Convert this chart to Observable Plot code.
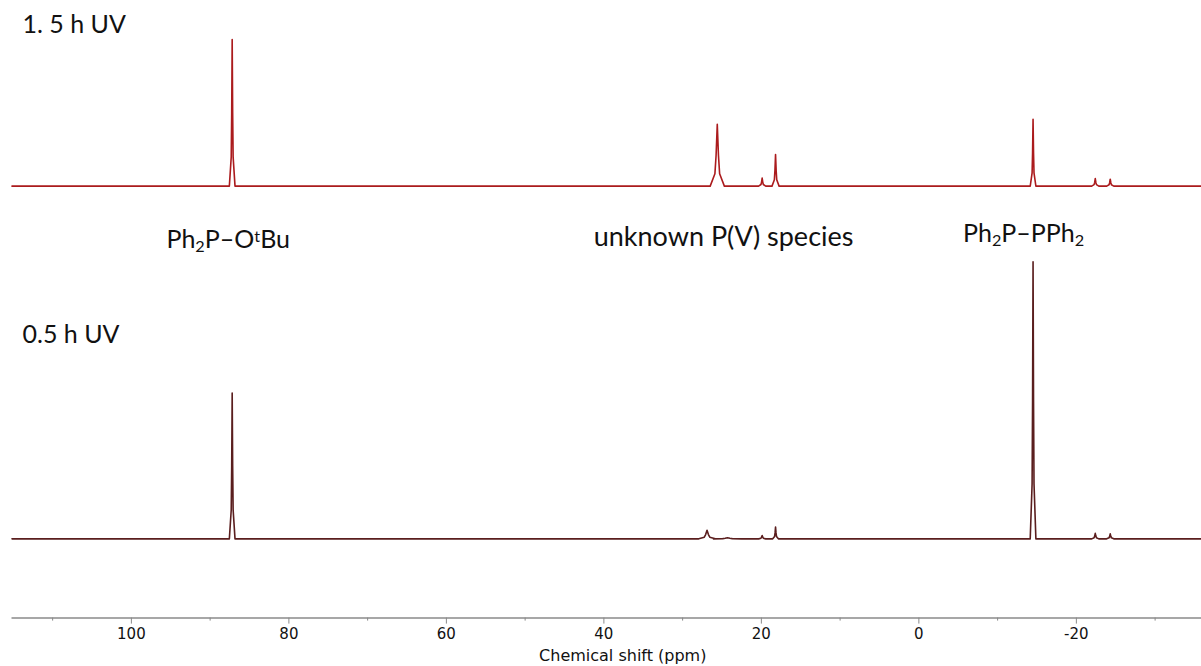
<!DOCTYPE html>
<html>
<head>
<meta charset="utf-8">
<script src="https://cdn.jsdelivr.net/npm/d3@7"></script>
<script src="https://cdn.jsdelivr.net/npm/@observablehq/plot@0.6"></script>
<style>
  html, body { margin: 0; padding: 0; background: #fff; }
  #chart svg { display: block; }
</style>
</head>
<body>
<div id="chart"></div>
<script>
// 31P NMR spectra after 1.5 h and 0.5 h of UV irradiation (stacked).
const sampleNames = ["1. 5 h UV", "0.5 h UV"];

// 1.5 h UV: peak list (ppm, relative intensity, line width in ppm)
const shifts15 = [87.2, 25.6, 19.9, 18.2, -14.5, -22.4, -24.3];
const heights15 = [52.9, 22.3, 2.9, 11.4, 24.1, 2.7, 2.5];
const widths15 = [0.12, 0.3, 0.15, 0.15, 0.12, 0.15, 0.15];

// 0.5 h UV: peak list
const shifts05 = [87.2, 26.9, 24.3, 19.9, 18.2, -14.5, -22.4, -24.3];
const heights05 = [52.6, 3.1, 0.4, 1.2, 4.3, 100, 2.0, 1.8];
const widths05 = [0.12, 0.35, 0.6, 0.15, 0.12, 0.12, 0.15, 0.15];

// Assignments (text, chemical shift the label sits over)
const assignTexts = ["Ph_2P–O^tBu", "unknown P(V) species", "Ph_2P–PPh_2"];
const assignShifts = [87.7, 24.8, -13.3];

// Axis ticks
const majorTicks = [100, 80, 60, 40, 20, 0, -20];
const minorTicks = [110, 90, 70, 50, 30, 10, -10, -30];
const axisTitle = "Chemical shift (ppm)";

// ---- layout ----
const W = 1201, H = 666;
const ppmDomain = [115.16, -35.89];
const yDomain = [-28.6, 194.3];
const stackOffset = [127.3, 0];      // vertical offset of each trace
const labelLevel = [58.0, 73.4];     // sample label height above its baseline
const assignLevel = [107.7, 108.8, 110.2];
const assignSize = [25, 27, 25];
const colors = ["#ab1b1d", "#5a1e1e"];

function trace(name, offset, shifts, heights, widths) {
  const pts = [{sample: name, ppm: ppmDomain[0], y: offset}];
  const order = d3.range(shifts.length).sort((a, b) => shifts[b] - shifts[a]);
  for (const i of order) {
    const p = shifts[i], h = heights[i], w = widths[i];
    pts.push(
      {sample: name, ppm: p + 3 * w, y: offset},
      {sample: name, ppm: p + w, y: offset + 0.2 * h},
      {sample: name, ppm: p + w / 2, y: offset + 0.5 * h},
      {sample: name, ppm: p, y: offset + h},
      {sample: name, ppm: p - w / 2, y: offset + 0.5 * h},
      {sample: name, ppm: p - w, y: offset + 0.2 * h},
      {sample: name, ppm: p - 3 * w, y: offset}
    );
  }
  pts.push({sample: name, ppm: ppmDomain[1], y: offset});
  return pts;
}

const points = [
  ...trace(sampleNames[0], stackOffset[0], shifts15, heights15, widths15),
  ...trace(sampleNames[1], stackOffset[1], shifts05, heights05, widths05)
];

const sampleLabels = sampleNames.map((s, i) => ({text: s, y: stackOffset[i] + labelLevel[i]}));
const assignLabels = assignTexts.map((t, i) => ({text: t, ppm: assignShifts[i], y: assignLevel[i], size: assignSize[i]}));

const chart = Plot.plot({
  width: W,
  height: H,
  marginLeft: 11.5,
  marginRight: 0,
  marginTop: 0,
  marginBottom: 48.4,
  style: {fontFamily: "DejaVu Sans", fontSize: "15px", color: "#111", background: "#fff"},
  x: {domain: ppmDomain},
  y: {domain: yDomain, axis: null},
  color: {domain: sampleNames, range: colors},
  marks: [
    Plot.ruleY([yDomain[0]], {stroke: "#8a8a8a", strokeWidth: 1.5}),
    Plot.axisX({ticks: minorTicks, tickSize: 3, tickFormat: () => "", stroke: "#8a8a8a", label: null}),
    Plot.axisX({ticks: majorTicks, tickSize: 6, tickPadding: 4, tickFormat: d => `${d}`,
      stroke: "#8a8a8a", fill: "#111", fontSize: 15, label: null}),
    Plot.text([axisTitle], {frameAnchor: "bottom", dx: 16, dy: 38, lineAnchor: "middle",
      fontSize: 16, fill: "#111"}),
    Plot.line(points, {x: "ppm", y: "y", z: "sample", stroke: "sample", strokeWidth: 1.6, curve: "linear"}),
    Plot.text(sampleLabels, {x: ppmDomain[0], y: "y", text: "text", textAnchor: "start", dx: 10.5,
      lineAnchor: "middle", fontFamily: "Lato", fontSize: 25, fill: "#111"}),
    Plot.text(assignLabels, {x: "ppm", y: "y", text: "text", textAnchor: "middle",
      lineAnchor: "middle", fontFamily: "Lato", fontSize: d => d.size, fill: "#111"})
  ]
});

// Render "_x" as subscript and "^x" as superscript in the assignment labels
d3.select(chart).selectAll("text").each(function () {
  const el = this;
  if (el.querySelector("tspan")) return;
  const s = el.textContent;
  if (!/[_^]/.test(s)) return;
  el.textContent = "";
  const parts = s.match(/[_^].|[^_^]+/g);
  for (const part of parts) {
    const t = document.createElementNS("http://www.w3.org/2000/svg", "tspan");
    if (part[0] === "_") {
      t.textContent = part[1];
      t.setAttribute("baseline-shift", "-22%");
      t.setAttribute("font-size", "65%");
    } else if (part[0] === "^") {
      t.textContent = part[1];
      t.setAttribute("baseline-shift", "38%");
      t.setAttribute("font-size", "65%");
    } else {
      t.textContent = part;
    }
    el.appendChild(t);
  }
});

document.getElementById("chart").appendChild(chart);
</script>
</body>
</html>
